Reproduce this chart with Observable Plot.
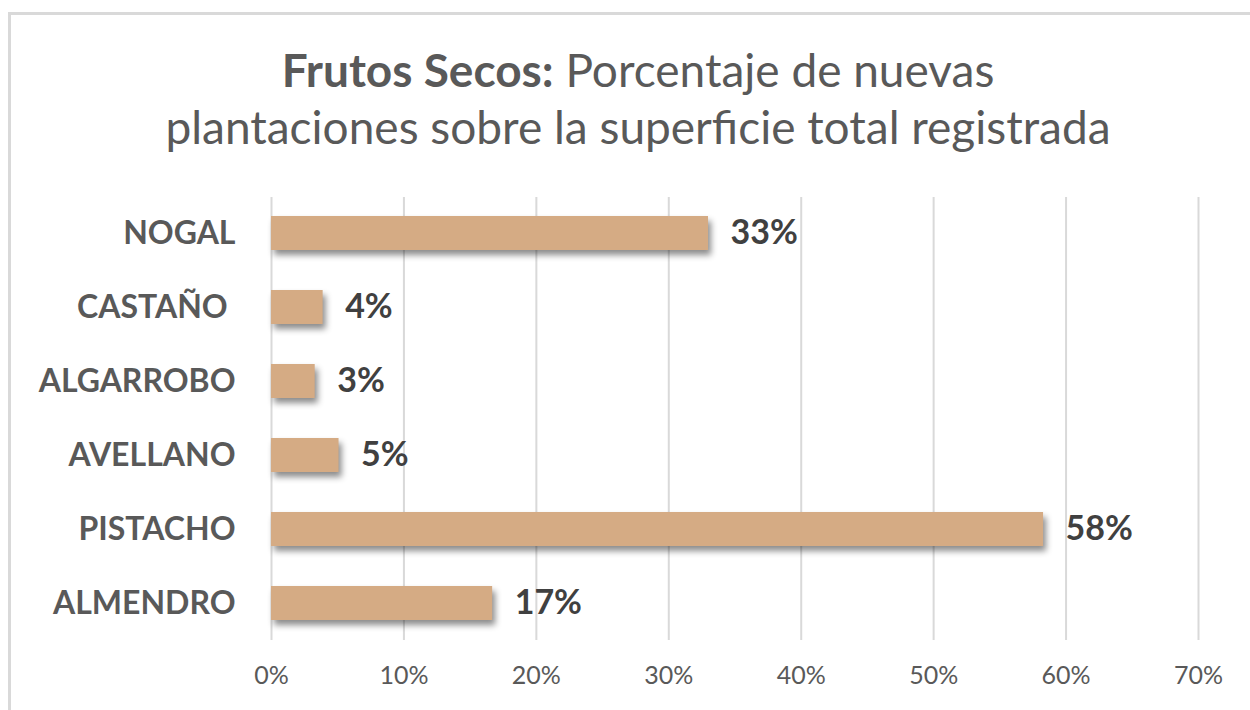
<!DOCTYPE html>
<html>
<head>
<meta charset="utf-8">
<script src="https://cdn.jsdelivr.net/npm/d3@7"></script>
<script src="https://cdn.jsdelivr.net/npm/@observablehq/plot@0.6"></script>
<style>
  html, body { margin: 0; padding: 0; background: #fff; overflow: hidden; }
  #wrap { position: relative; width: 1250px; height: 710px; overflow: hidden; font-family: Lato, "Open Sans", sans-serif; }
  #frame { position: absolute; left: 8px; top: 12px; width: 1400px; height: 900px; border: 3px solid #d9d9d9; box-sizing: border-box; }
  #title { position: absolute; left: 26px; top: 41px; width: 1224px; text-align: center; color: #595959; font-size: 46px; line-height: 57px; }
  #title b { font-weight: 700; }
  #chart { position: absolute; left: 0; top: 170px; }
  #chart g[aria-label="bar"] rect { filter: drop-shadow(3px 5px 3px rgba(0,0,0,0.45)); }
</style>
</head>
<body>
<div id="wrap">
  <div id="frame"></div>
  <div id="title"><b>Frutos Secos:</b> Porcentaje de nuevas<br>plantaciones sobre la superficie total registrada</div>
  <div id="chart"></div>
</div>
<script>
const categories = ["NOGAL", "CASTAÑO\u00a0", "ALGARROBO", "AVELLANO", "PISTACHO", "ALMENDRO"];
const values = [0.330, 0.039, 0.033, 0.051, 0.583, 0.167];
const xTicks = [0, 0.1, 0.2, 0.3, 0.4, 0.5, 0.6, 0.7];

const data = categories.map((c, i) => ({cat: c, value: values[i]}));

const plot = Plot.plot({
  width: 1250,
  height: 540,
  marginTop: 27,
  marginBottom: 70,
  marginLeft: 271,
  marginRight: 52,
  style: { fontFamily: "Lato, 'Open Sans', sans-serif", background: "transparent" },
  x: { domain: [0, 0.7], ticks: xTicks, tickFormat: d => Math.round(d * 100) + "%", label: null },
  y: { domain: categories, paddingInner: 0.54, paddingOuter: 0.26, label: null },
  marks: [
    Plot.gridX(xTicks, { stroke: "#d9d9d9", strokeOpacity: 1, strokeWidth: 2 }),
    Plot.axisX({ ticks: xTicks, tickSize: 0, tickPadding: 26, fontSize: 25, color: "#595959", tickFormat: d => Math.round(d * 100) + "%", label: null }),
    Plot.axisY({ tickSize: 0, tickPadding: 36, fontSize: 32, fontWeight: "bold", color: "#595959", label: null }),
    Plot.barX(data, { x: "value", y: "cat", fill: "#D5AB84" }),
    Plot.text(data, { x: "value", y: "cat", text: d => Math.round(d.value * 100) + "%", dx: 22, textAnchor: "start", fontSize: 34, fontWeight: "bold", fill: "#404040" })
  ]
});
document.getElementById("chart").appendChild(plot);
</script>
</body>
</html>
